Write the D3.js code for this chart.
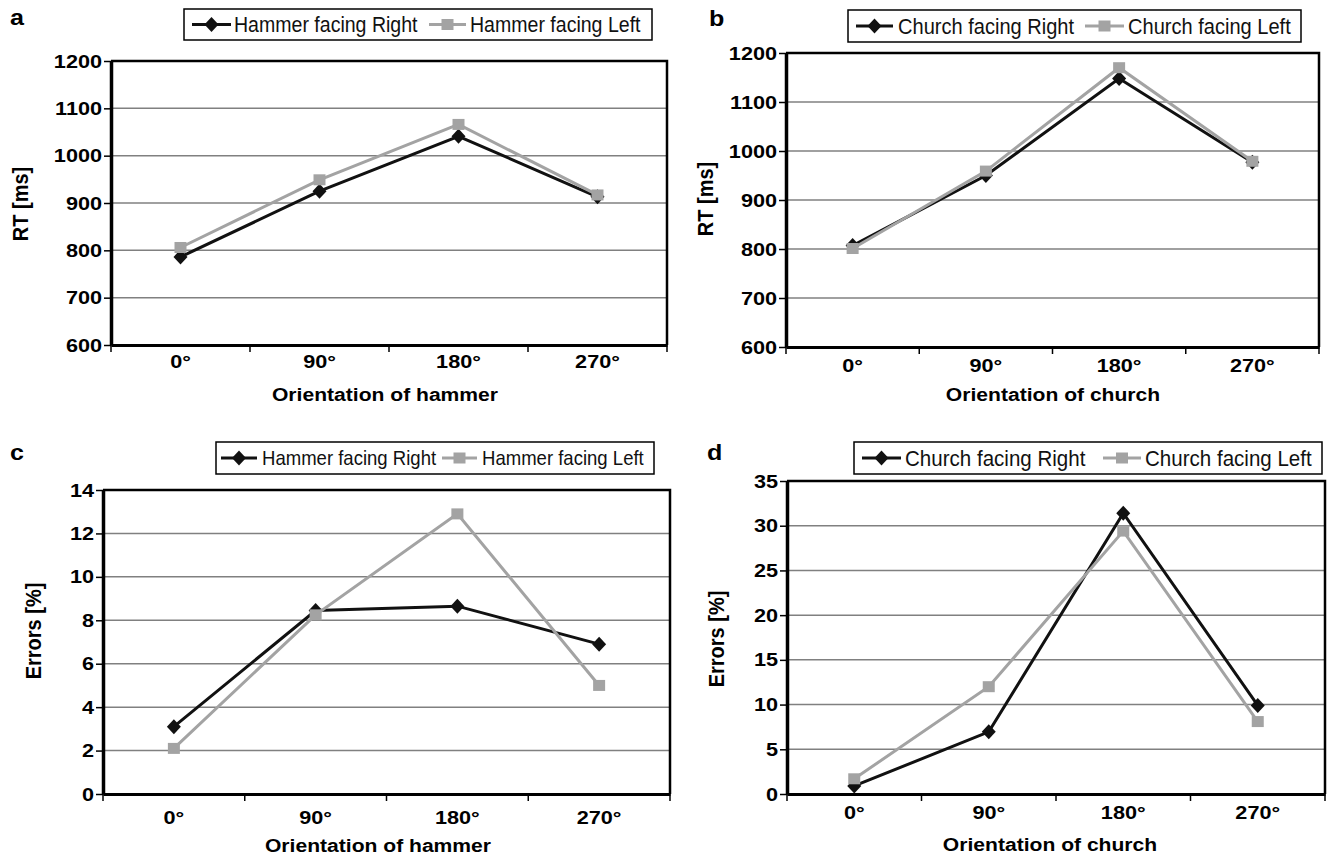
<!DOCTYPE html>
<html>
<head>
<meta charset="utf-8">
<script src="https://cdn.jsdelivr.net/npm/d3@7"></script>
<style>
  body { margin: 0; background: #fff; }
  text { font-family: "Liberation Sans", Arial, sans-serif; }
</style>
</head>
<body>
<svg id="fig" width="1327" height="858"></svg>
<script>
// categories and tick values
var orientations = ["0°", "90°", "180°", "270°"];
var rtTicks = [600, 700, 800, 900, 1000, 1100, 1200];
var hammerErrTicks = [0, 2, 4, 6, 8, 10, 12, 14];
var churchErrTicks = [0, 5, 10, 15, 20, 25, 30, 35];

// series values
var hammerRtRight = [786, 925, 1041, 913];
var hammerRtLeft = [806, 949, 1066, 917];
var churchRtRight = [807, 950, 1148, 977];
var churchRtLeft = [801, 959, 1170, 979];
var hammerErrRight = [3.1, 8.45, 8.65, 6.9];
var hammerErrLeft = [2.1, 8.25, 12.9, 5.0];
var churchErrRight = [0.9, 6.95, 31.4, 9.9];
var churchErrLeft = [1.7, 12.0, 29.4, 8.1];

var hammerNames = ["Hammer facing Right", "Hammer facing Left"];
var churchNames = ["Church facing Right", "Church facing Left"];

var sx = 1.14; // the original figure is a bit stretched sideways
var black = "#111";
var grey = "#a3a3a3";

var svg = d3.select("#fig");
svg.append("rect").attr("width", 1327).attr("height", 858).style("fill", "#fff");

var panels = [
  { letter: "a", lx: 10, ly: 25, x0: 111, x1: 667, y0: 61, y1: 345, ticks: rtTicks,
    right: hammerRtRight, left: hammerRtLeft, names: hammerNames,
    yTitle: "RT [ms]", ytx: 20, yty: 204, xTitle: "Orientation of hammer", xtx: 385, xty: 401, xLabelY: 23,
    legend: { x: 184, y: 9, w: 468, h: 31, size: 19.5, items: [[192, 231, 234], [429, 466, 470]] } },
  { letter: "b", lx: 709, ly: 26, x0: 786, x1: 1319, y0: 53, y1: 347, ticks: rtTicks,
    right: churchRtRight, left: churchRtLeft, names: churchNames,
    yTitle: "RT [ms]", ytx: 705, yty: 199, xTitle: "Orientation of church", xtx: 1053, xty: 401, xLabelY: 25,
    legend: { x: 848, y: 10, w: 453, h: 32, size: 20, items: [[856, 893, 898], [1085, 1124, 1128]] } },
  { letter: "c", lx: 10, ly: 460, x0: 103, x1: 670, y0: 490, y1: 794, ticks: hammerErrTicks,
    right: hammerErrRight, left: hammerErrLeft, names: hammerNames,
    yTitle: "Errors [%]", ytx: 33, yty: 631, xTitle: "Orientation of hammer", xtx: 378, xty: 852, xLabelY: 30,
    legend: { x: 216, y: 442, w: 438, h: 32, size: 18.5, items: [[221, 257, 262], [442, 477, 482]] } },
  { letter: "d", lx: 707, ly: 460, x0: 787, x1: 1325, y0: 481, y1: 794, ticks: churchErrTicks,
    right: churchErrRight, left: churchErrLeft, names: churchNames,
    yTitle: "Errors [%]", ytx: 716, yty: 639, xTitle: "Orientation of church", xtx: 1050, xty: 851, xLabelY: 25,
    legend: { x: 854, y: 442, w: 468, h: 32, size: 20.5, items: [[862, 901, 905], [1103, 1141, 1145]] } }
];

function diamond(sel, color) {
  sel.append("path").attr("d", "M0,-7.5L7,0L0,7.5L-7,0Z").style("fill", color);
}
function square(sel, color) {
  sel.append("rect").attr("x", -6).attr("y", -5.5).attr("width", 12).attr("height", 11).style("fill", color);
}

function drawPanel(p) {
  var g = svg.append("g");
  var x = d3.scaleBand().domain(orientations).range([p.x0, p.x1]);
  var y = d3.scaleLinear().domain([p.ticks[0], p.ticks[p.ticks.length - 1]]).range([p.y1, p.y0]);
  var top = p.ticks[p.ticks.length - 1];

  // horizontal gridlines
  g.selectAll(".grid").data(p.ticks.slice(1, -1)).enter().append("line")
    .attr("x1", p.x0).attr("x2", p.x1)
    .attr("y1", function(d) { return y(d); })
    .attr("y2", function(d) { return y(d); })
    .style("stroke", "#808080").style("stroke-width", 1.5);

  // frame on top and right
  g.append("path")
    .attr("d", "M" + p.x0 + "," + y(top) + "H" + p.x1 + "V" + p.y1)
    .style("fill", "none").style("stroke", "#000").style("stroke-width", 2.5);

  // y axis
  var ya = g.append("g").attr("transform", "translate(" + p.x0 + ",0)")
    .call(d3.axisLeft(y).tickValues(p.ticks).tickFormat(d3.format("d")).tickSize(7).tickSizeOuter(0))
    .attr("font-size", null).attr("font-family", null);
  ya.select(".domain").style("stroke", "#000").style("stroke-width", 3.5);
  ya.selectAll(".tick line").style("stroke", "#000").style("stroke-width", 1.5);
  ya.selectAll("text")
    .attr("x", -9 / sx).attr("transform", "scale(" + sx + ",1)")
    .style("font-size", "19px").style("font-weight", "bold").style("fill", "#000");

  // x axis with category labels
  var xa = g.append("g").attr("transform", "translate(0," + p.y1 + ")")
    .call(d3.axisBottom(x).tickSize(0).tickSizeOuter(0))
    .attr("font-size", null).attr("font-family", null);
  xa.select(".domain").style("stroke", "#000").style("stroke-width", 3);
  xa.selectAll("text")
    .attr("y", p.xLabelY).attr("dy", 0).attr("transform", "scale(" + sx + ",1)")
    .style("font-size", "19px").style("font-weight", "bold").style("fill", "#000");

  // small ticks between categories
  var edges = orientations.map(function(d) { return x(d); }).concat([x.range()[1]]);
  g.selectAll(".edge").data(edges).enter().append("line")
    .attr("x1", function(d) { return d; }).attr("x2", function(d) { return d; })
    .attr("y1", p.y1).attr("y2", p.y1 + 7)
    .style("stroke", "#000").style("stroke-width", 1.5);

  // series: right (black diamonds) then left (grey squares)
  var line = d3.line()
    .x(function(d, i) { return x(orientations[i]) + x.bandwidth() / 2; })
    .y(function(d) { return y(d); });
  [[p.right, black, diamond], [p.left, grey, square]].forEach(function(s) {
    g.append("path").attr("d", line(s[0]))
      .style("fill", "none").style("stroke", s[1]).style("stroke-width", 3);
    g.selectAll(null).data(s[0]).enter().append("g")
      .attr("transform", function(d, i) {
        return "translate(" + (x(orientations[i]) + x.bandwidth() / 2) + "," + y(d) + ")";
      })
      .each(function() { s[2](d3.select(this), s[1]); });
  });

  // titles
  g.append("text").text(p.yTitle)
    .attr("transform", "translate(" + p.ytx + "," + p.yty + ") scale(" + sx + ",1) rotate(-90)")
    .attr("text-anchor", "middle").attr("dy", "0.35em")
    .style("font-size", "20px").style("font-weight", "bold");
  g.append("text").text(p.xTitle)
    .attr("transform", "translate(" + p.xtx + "," + p.xty + ") scale(" + sx + ",1)")
    .attr("text-anchor", "middle")
    .style("font-size", "18.5px").style("font-weight", "bold");
  g.append("text").text(p.letter)
    .attr("transform", "translate(" + p.lx + "," + p.ly + ") scale(" + sx + ",1)")
    .style("font-size", "22px").style("font-weight", "bold");

  // legend box
  var L = p.legend;
  var cy = L.y + L.h / 2;
  g.append("rect").attr("x", L.x).attr("y", L.y).attr("width", L.w).attr("height", L.h)
    .style("fill", "#fff").style("stroke", "#000").style("stroke-width", 1.5);
  [[black, diamond], [grey, square]].forEach(function(s, i) {
    var it = L.items[i];
    g.append("line").attr("x1", it[0]).attr("x2", it[1]).attr("y1", cy).attr("y2", cy)
      .style("stroke", s[0]).style("stroke-width", 3);
    s[1](g.append("g").attr("transform", "translate(" + (it[0] + it[1]) / 2 + "," + cy + ")"), s[0]);
    // slightly narrow lettering, as in the original
    g.append("text").text(p.names[i])
      .attr("transform", "translate(" + it[2] + "," + (cy + L.size * 0.4) + ") scale(0.92,1)")
      .style("font-size", (L.size * 1.09) + "px").style("fill", "#111");
  });
}

panels.forEach(drawPanel);
</script>
</body>
</html>
